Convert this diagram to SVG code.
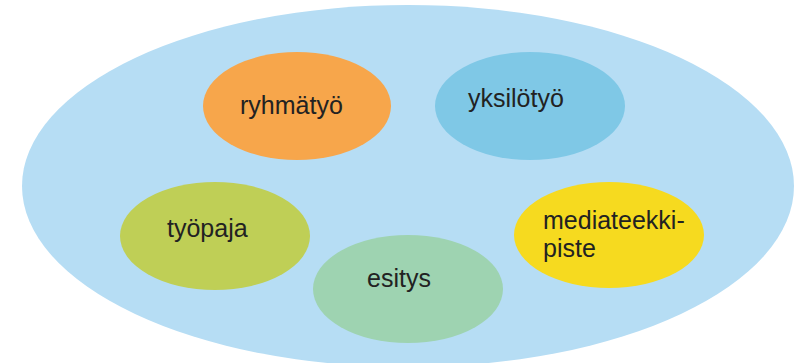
<svg xmlns="http://www.w3.org/2000/svg" width="794" height="363" viewBox="0 0 794 363">
<style>
.t{font-family:"Liberation Sans",Arial,sans-serif;font-size:25px;fill:#222;}
</style>
<rect width="794" height="363" fill="#ffffff"/>
<g id="bg"><ellipse cx="408" cy="186" rx="386" ry="181" fill="#b6ddf4"/></g>
<g id="ryhmatyo"><ellipse cx="297" cy="106" rx="94" ry="54" fill="#f7a64b"/><text class="t" x="240" y="114">ryhmätyö</text></g>
<g id="yksilotyo"><ellipse cx="530" cy="106" rx="95" ry="54" fill="#7fc8e6"/><text class="t" x="468" y="107">yksilötyö</text></g>
<g id="tyopaja"><ellipse cx="215" cy="236" rx="95" ry="54" fill="#bfcf56"/><text class="t" x="167" y="237">työpaja</text></g>
<g id="esitys"><ellipse cx="408" cy="289" rx="95" ry="54" fill="#9ed3b1"/><text class="t" x="367" y="287">esitys</text></g>
<g id="mediateekki"><ellipse cx="609" cy="235" rx="95" ry="53" fill="#f6da1f"/><text class="t" x="543" y="229">mediateekki-</text><text class="t" x="543" y="257">piste</text></g>
<g id="connectors"/>
</svg>
